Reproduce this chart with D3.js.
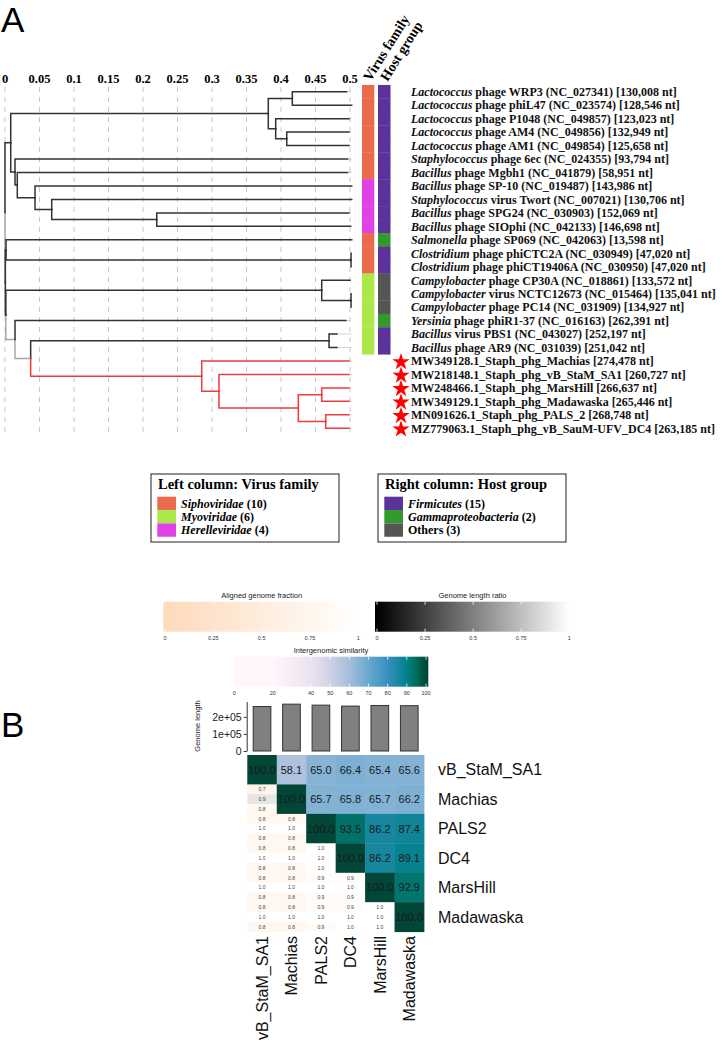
<!DOCTYPE html>
<html><head><meta charset="utf-8">
<script src="https://cdn.jsdelivr.net/npm/d3@7"></script>
<style>body{margin:0;background:#fff} svg{display:block}</style>
</head><body>
<svg id="c" width="728" height="1040"></svg>
<script>
// ---------------- DATA ----------------
const treeTicks = [0,0.05,0.1,0.15,0.2,0.25,0.3,0.35,0.4,0.45,0.5];
// [node, parent, distance from root, colour class]
const treeNodes = [
 ["root",null,0,"k"],
 ["N1","root",0.0083,"k"],
 ["Lac","N1",0.3816,"k"],
 ["L1","Lac",0.4164,"k"],
 ["WRP3","L1",0.4952,"k"],
 ["phiL47","L1",0.5025,"k"],
 ["L2","Lac",0.3923,"k"],
 ["P1048","L2",0.4986,"k"],
 ["L3","L2",0.4083,"k"],
 ["AM4","L3",0.4986,"k"],
 ["AM1","L3",0.4986,"k"],
 ["N3","N1",0.0145,"k"],
 ["6ec","N3",0.4967,"k"],
 ["N4","N3",0.0178,"k"],
 ["Mgbh1","N4",0.4967,"k"],
 ["N5","N4",0.0435,"k"],
 ["SP-10","N5",0.5025,"k"],
 ["N6","N5",0.0677,"k"],
 ["Twort","N6",0.5025,"k"],
 ["N7","N6",0.2199,"k"],
 ["SPG24","N7",0.4986,"k"],
 ["SIOphi","N7",0.5010,"k"],
 ["X","root",0.0005,"g"],
 ["N8","X",0.0015,"k"],
 ["SP069","N8",0.5025,"k"],
 ["CTC","N8",0.5015,"k"],
 ["phiCTC2A","CTC",0.5016,"k"],
 ["phiCT19406A","CTC",0.5016,"k"],
 ["Z","X",0.0012,"k"],
 ["Campy","Z",0.459,"k"],
 ["CP30A","Campy",0.5000,"k"],
 ["CPair","Campy",0.5015,"k"],
 ["NCTC12673","CPair",0.5016,"k"],
 ["PC14","CPair",0.5016,"k"],
 ["W","Z",0.0145,"g"],
 ["phiR1-37","W",0.4942,"k"],
 ["V","W",0.0372,"g"],
 ["PB","V",0.4696,"k"],
 ["PBS1","PB",0.4812,"k"],
 ["AR9","PB",0.4812,"k"],
 ["Red","V",0.2851,"r"],
 ["Machias","Red",0.4986,"r"],
 ["R2","Red",0.3101,"r"],
 ["SA1","R2",0.4986,"r"],
 ["R3","R2",0.4251,"r"],
 ["R4","R3",0.459,"r"],
 ["MarsHill","R4",0.4986,"r"],
 ["Madawaska","R4",0.4986,"r"],
 ["R5","R3",0.4648,"r"],
 ["PALS_2","R5",0.4986,"r"],
 ["DC4","R5",0.4986,"r"]
];
const tipOrder = ["WRP3","phiL47","P1048","AM4","AM1","6ec","Mgbh1","SP-10","Twort","SPG24","SIOphi","SP069","phiCTC2A","phiCT19406A","CP30A","NCTC12673","PC14","phiR1-37","PBS1","AR9","Machias","SA1","MarsHill","Madawaska","PALS_2","DC4"];
const tipGenus = ["Lactococcus","Lactococcus","Lactococcus","Lactococcus","Lactococcus","Staphylococcus","Bacillus","Bacillus","Staphylococcus","Bacillus","Bacillus","Salmonella","Clostridium","Clostridium","Campylobacter","Campylobacter","Campylobacter","Yersinia","Bacillus","Bacillus","","","","","",""];
const tipRest = [
 " phage WRP3 (NC_027341) [130,008 nt]",
 " phage phiL47 (NC_023574) [128,546 nt]",
 " phage P1048 (NC_049857) [123,023 nt]",
 " phage AM4 (NC_049856) [132,949 nt]",
 " phage AM1 (NC_049854) [125,658 nt]",
 " phage 6ec (NC_024355) [93,794 nt]",
 " phage Mgbh1 (NC_041879) [58,951 nt]",
 " phage SP-10 (NC_019487) [143,986 nt]",
 " virus Twort (NC_007021) [130,706 nt]",
 " phage SPG24 (NC_030903) [152,069 nt]",
 " phage SIOphi (NC_042133) [146,698 nt]",
 " phage SP069 (NC_042063) [13,598 nt]",
 " phage phiCTC2A (NC_030949) [47,020 nt]",
 " phage phiCT19406A (NC_030950) [47,020 nt]",
 " phage CP30A (NC_018861) [133,572 nt]",
 " virus NCTC12673 (NC_015464) [135,041 nt]",
 " phage PC14 (NC_031909) [134,927 nt]",
 " phage phiR1-37 (NC_016163) [262,391 nt]",
 " virus PBS1 (NC_043027) [252,197 nt]",
 " phage AR9 (NC_031039) [251,042 nt]",
 "MW349128.1_Staph_phg_Machias [274,478 nt]",
 "MW218148.1_Staph_phg_vB_StaM_SA1 [260,727 nt]",
 "MW248466.1_Staph_phg_MarsHill [266,637 nt]",
 "MW349129.1_Staph_phg_Madawaska [265,446 nt]",
 "MN091626.1_Staph_phg_PALS_2 [268,748 nt]",
 "MZ779063.1_Staph_phg_vB_SauM-UFV_DC4 [263,185 nt]"
];
const tipStar = [0,0,0,0,0,0,0,0,0,0,0,0,0,0,0,0,0,0,0,0,1,1,1,1,1,1];
const virusFamily = ["Siphoviridae","Siphoviridae","Siphoviridae","Siphoviridae","Siphoviridae","Siphoviridae","Siphoviridae","Herelleviridae","Herelleviridae","Herelleviridae","Herelleviridae","Siphoviridae","Siphoviridae","Siphoviridae","Myoviridae","Myoviridae","Myoviridae","Myoviridae","Myoviridae","Myoviridae"];
const hostGroup = ["Firmicutes","Firmicutes","Firmicutes","Firmicutes","Firmicutes","Firmicutes","Firmicutes","Firmicutes","Firmicutes","Firmicutes","Firmicutes","Gammaproteobacteria","Firmicutes","Firmicutes","Others","Others","Others","Gammaproteobacteria","Firmicutes","Firmicutes"];
const familyNames = ["Siphoviridae","Myoviridae","Herelleviridae"];
const familyCounts = [10,6,4];
const familyColors = ["#EC6A4C","#ADE84A","#E142E6"];
const hostNames = ["Firmicutes","Gammaproteobacteria","Others"];
const hostCounts = [15,2,3];
const hostColors = ["#5A3299","#33992F","#555555"];

// Panel B
const hmNames = ["vB_StaM_SA1","Machias","PALS2","DC4","MarsHill","Madawaska"];
const genomeLengths = [260727,274478,268748,263185,266637,265446];
const genomeTicks = [0,100000,200000];
const genomeTickLabels = ["0","1e+05","2e+05"];
const simValues = [
 [100.0,58.1,65.0,66.4,65.4,65.6],
 [null,100.0,65.7,65.8,65.7,66.2],
 [null,null,100.0,93.5,86.2,87.4],
 [null,null,null,100.0,86.2,89.1],
 [null,null,null,null,100.0,92.9],
 [null,null,null,null,null,100.0]
];
const alignedTop = [[],[0.7],[0.8,0.8],[0.8,0.8,1.0],[0.8,0.8,0.9,0.9],[0.8,0.8,0.9,0.9,1.0]];
const lengthRatio = [[],[0.9],[1.0,1.0],[1.0,1.0,1.0],[1.0,1.0,1.0,1.0],[1.0,1.0,1.0,1.0,1.0]];
const alignedBottom = [[],[0.8],[0.8,0.8],[0.8,0.8,1.0],[0.8,0.8,0.9,0.9],[0.8,0.8,0.9,1.0,1.0]];
const fracTicks = [0,0.25,0.5,0.75,1];
const fracTickLabels = ["0","0.25","0.5","0.75","1"];
const simTicks = [0,20,40,50,60,70,80,90,100];
const simStops = [0,20,40,50,60,70,80,90,95,100];
const simColors = ["#fff7fb","#fff7fb","#ece2f0","#d0d1e6","#a6bddb","#67a9cf","#3690c0","#02818a","#016c59","#014636"];

// ---------------- DRAW ----------------
const svg = d3.select("#c");
const SERIF = "Liberation Serif, Times New Roman, serif";
const SANS = "Liberation Sans, Arial, Helvetica, sans-serif";

svg.append("text").attr("x",1).attr("y",32).attr("font-family",SANS).attr("font-size",35).text("A");
svg.append("text").attr("x",1).attr("y",737).attr("font-family",SANS).attr("font-size",35).text("B");

// tree scales
const xT = d3.scaleLinear().domain([0,0.5]).range([5,350]);
const yT = d3.scaleLinear().domain([0,tipOrder.length-1]).range([91.7,428.3]);
const step = yT(1)-yT(0);

// grid + ticks
const gGrid = svg.append("g");
gGrid.selectAll("line").data(treeTicks).join("line")
 .attr("x1",d=>xT(d)).attr("x2",d=>xT(d)).attr("y1",87).attr("y2",436)
 .attr("stroke","#c8c8c8").attr("stroke-width",1).attr("stroke-dasharray","5,5");
gGrid.selectAll("text").data(treeTicks).join("text")
 .attr("x",d=>xT(d)).attr("y",83).attr("text-anchor","middle")
 .attr("font-family",SERIF).attr("font-weight","bold").attr("font-size",12.5)
 .text(d=>d3.format("~g")(d));

// layout
const nodeMap = new Map();
treeNodes.forEach(([id,p,dist,col])=>nodeMap.set(id,{id,p,dist,col,children:[]}));
nodeMap.forEach(n=>{ if(n.p) nodeMap.get(n.p).children.push(n); });
function setY(n){
  if(!n.children.length){ n.y = yT(tipOrder.indexOf(n.id)); }
  else { n.children.forEach(setY); n.y = d3.mean(n.children,c=>c.y); }
}
const root = nodeMap.get("root");
setY(root);
const colMap = {k:"#333333", g:"#a8a8a8", r:"#F23A3A"};
const edges = [...nodeMap.values()].filter(n=>n.p);
const orderRank = {g:0,k:1,r:2};
edges.sort((a,b)=>orderRank[a.col]-orderRank[b.col]);
const gTree = svg.append("g").attr("fill","none").attr("stroke-width",1.5).attr("stroke-linecap","square");
// dotted alignment lines
const tips = edges.filter(n=>!n.children.length);
gTree.selectAll("line.dot").data(tips.filter(t=>xT(0.5016)-xT(t.dist)>2)).join("line")
 .attr("x1",d=>xT(d.dist)+2).attr("x2",xT(0.5016)).attr("y1",d=>d.y).attr("y2",d=>d.y)
 .attr("stroke","#c8c8c8").attr("stroke-width",1).attr("stroke-dasharray","2,2");
gTree.selectAll("path").data(edges).join("path")
 .attr("d",n=>{const p=nodeMap.get(n.p); return `M${xT(p.dist)},${p.y}V${n.y}H${xT(n.dist)}`;})
 .attr("stroke",n=>colMap[n.col]);

// annotation columns
const famColor = d3.scaleOrdinal().domain(familyNames).range(familyColors);
const hostColor = d3.scaleOrdinal().domain(hostNames).range(hostColors);
svg.append("g").selectAll("rect").data(virusFamily).join("rect")
 .attr("x",362).attr("width",12.3).attr("y",(d,i)=>yT(i)-step/2).attr("height",step+0.3)
 .attr("fill",d=>famColor(d));
svg.append("g").selectAll("rect").data(hostGroup).join("rect")
 .attr("x",378).attr("width",12.5).attr("y",(d,i)=>yT(i)-step/2).attr("height",step+0.3)
 .attr("fill",d=>hostColor(d));
[["Virus family",370.5],["Host group",387.5]].forEach(([t,x])=>{
 svg.append("text").attr("transform",`translate(${x},82) rotate(-58)`)
  .attr("font-family",SERIF).attr("font-weight","bold").attr("font-size",14).text(t);
});

// tip labels
const gLab = svg.append("g").attr("font-family",SERIF).attr("font-weight","bold").attr("font-size",12).attr("fill","#111");
tipOrder.forEach((id,i)=>{
  const t = gLab.append("text").attr("x",411).attr("y",yT(i)).attr("dy","0.36em");
  if(tipGenus[i]) t.append("tspan").attr("font-style","italic").text(tipGenus[i]);
  t.append("tspan").text(tipRest[i]);
  if(tipStar[i]) svg.append("path").attr("d",d3.symbol(d3.symbolStar,92)())
     .attr("transform",`translate(401,${yT(i)+1})`).attr("fill","#ff0000");
});

// legends
function legend(x0, title, names, counts, colors, italic){
  const g = svg.append("g");
  g.append("rect").attr("x",x0).attr("y",474).attr("width",188).attr("height",68)
   .attr("fill","#fff").attr("stroke","#333").attr("stroke-width",1.1);
  g.append("text").attr("x",x0+7).attr("y",489).attr("font-family",SERIF).attr("font-weight","bold")
   .attr("font-size",14.5).text(title);
  names.forEach((n,i)=>{
    g.append("rect").attr("x",x0+6.3).attr("y",496.7+i*13.35).attr("width",18.7).attr("height",13.35).attr("fill",colors[i]);
    const t = g.append("text").attr("x",x0+30).attr("y",496.7+i*13.35+6.7).attr("dy","0.36em")
      .attr("font-family",SERIF).attr("font-weight","bold").attr("font-size",12);
    t.append("tspan").attr("font-style",italic[i]?"italic":"normal").text(n);
    t.append("tspan").text(` (${counts[i]})`);
  });
}
legend(151,"Left column: Virus family",familyNames,familyCounts,familyColors,[1,1,1]);
legend(378,"Right column: Host group",hostNames,hostCounts,hostColors,[1,1,0]);

// ---------------- Panel B ----------------
const defs = svg.append("defs");
function colorbar(id, x0, x1, y0, h, stops, colorFn, ticks, tickLabels, title, titleX, tickScale){
  const grad = defs.append("linearGradient").attr("id",id).attr("x1","0%").attr("x2","100%");
  stops.forEach(s=>grad.append("stop").attr("offset",((tickScale(s)-x0)/(x1-x0)*100)+"%").attr("stop-color",colorFn(s)));
  svg.append("rect").attr("x",x0).attr("y",y0).attr("width",x1-x0).attr("height",h).attr("fill",`url(#${id})`);
  const g = svg.append("g");
  ticks.forEach((t,i)=>{
    const x = tickScale(t);
    g.append("line").attr("x1",x).attr("x2",x).attr("y1",y0).attr("y2",y0+3).attr("stroke","#fff").attr("stroke-width",0.8);
    g.append("line").attr("x1",x).attr("x2",x).attr("y1",y0+h-3).attr("y2",y0+h).attr("stroke","#fff").attr("stroke-width",0.8);
    g.append("text").attr("x",x).attr("y",y0+h+8).attr("text-anchor","middle").attr("font-family",SANS)
     .attr("font-size",5.5).attr("fill","#333").text(tickLabels[i]);
  });
  svg.append("text").attr("x",titleX).attr("y",y0-4).attr("text-anchor","middle").attr("font-family",SANS)
   .attr("font-size",7.5).attr("fill","#222").text(title);
}
const fracColor = d3.scaleLinear().domain([0,1]).range(["#FDDABB","#ffffff"]);
const ratioColor = d3.scaleLinear().domain([0,1]).range(["#000000","#ffffff"]);
const simColor = d3.scaleLinear().domain(simStops).range(simColors);
const xFrac = d3.scaleLinear().domain([0,1]).range([165,358.3]);
const xRatio = d3.scaleLinear().domain([0,1]).range([377,569.3]);
const xSim = d3.scaleLinear().domain([0,100]).range([234.4,426]);
colorbar("gFrac",163.3,358.3,601.7,30,[0,0.25,0.5,0.75,1],fracColor,fracTicks,fracTickLabels,"Aligned genome fraction",261.7,xFrac);
colorbar("gRatio",375,569.3,601.7,30,[0,0.25,0.5,0.75,1],ratioColor,fracTicks,fracTickLabels,"Genome length ratio",472.5,xRatio);
colorbar("gSim",234.4,428.3,656.7,30,simStops,simColor,simTicks,simTicks.map(String),"Intergenomic similarity",331,xSim);

// bar chart
const xH = d3.scaleBand().domain(hmNames).range([247.3,424]);
const yH = d3.scaleBand().domain(hmNames).range([755,931.7]);
const yBar = d3.scaleLinear().domain([0,290000]).range([751,701.5]);
svg.append("g").selectAll("rect").data(genomeLengths).join("rect")
 .attr("x",(d,i)=>xH(hmNames[i])+xH.bandwidth()*0.2).attr("width",xH.bandwidth()*0.6)
 .attr("y",d=>yBar(d)).attr("height",d=>yBar(0)-yBar(d))
 .attr("fill","#808080").attr("stroke","#333").attr("stroke-width",1);
const ax = svg.append("g").attr("transform","translate(246.7,0)")
 .call(d3.axisLeft(yBar).tickValues(genomeTicks).tickFormat((d,i)=>genomeTickLabels[i]).tickSize(3).tickSizeOuter(0));
ax.select(".domain").attr("stroke","#333");
ax.selectAll(".tick line").attr("stroke","#333");
ax.selectAll(".tick text").attr("font-family",SANS).attr("font-size",10.5).attr("fill","#222").attr("x",-5);
svg.append("text").attr("transform","translate(200,726) rotate(-90)").attr("text-anchor","middle")
 .attr("font-family",SANS).attr("font-size",7.5).attr("fill","#222").text("Genome length");

// heatmap
const gH = svg.append("g");
const bw = xH.bandwidth(), bh = yH.bandwidth();
hmNames.forEach((rn,i)=>{
  hmNames.forEach((cn,j)=>{
    const x = xH(cn), y = yH(rn);
    if(j>=i){
      const v = simValues[i][j];
      gH.append("rect").attr("x",x).attr("y",y).attr("width",bw+0.4).attr("height",bh+0.4).attr("fill",simColor(v));
      gH.append("text").attr("x",x+bw/2).attr("y",y+bh/2).attr("dy","0.36em").attr("text-anchor","middle")
        .attr("font-family",SANS).attr("font-size",11).attr("fill","#1a1a1a").text(v.toFixed(1));
    } else {
      const vals = [alignedTop[i][j], lengthRatio[i][j], alignedBottom[i][j]];
      const fns = [fracColor, ratioColor, fracColor];
      vals.forEach((v,k)=>{
        gH.append("rect").attr("x",x).attr("y",y+k*bh/3).attr("width",bw+0.4).attr("height",bh/3+0.3).attr("fill",fns[k](v));
        gH.append("text").attr("x",x+bw/2).attr("y",y+k*bh/3+bh/6).attr("dy","0.36em").attr("text-anchor","middle")
          .attr("font-family",SANS).attr("font-size",5).attr("fill","#444").text(v.toFixed(1));
      });
    }
  });
});
// row labels
svg.append("g").selectAll("text").data(hmNames).join("text")
 .attr("x",438).attr("y",d=>yH(d)+bh/2).attr("dy","0.36em")
 .attr("font-family",SANS).attr("font-size",16).attr("fill","#111").text(d=>d);
// column labels
svg.append("g").selectAll("text").data(hmNames).join("text")
 .attr("transform",d=>`translate(${xH(d)+bw/2},936) rotate(-90)`).attr("dy","0.36em").attr("text-anchor","end")
 .attr("font-family",SANS).attr("font-size",16).attr("fill","#111").text(d=>d);
</script>
</body></html>
